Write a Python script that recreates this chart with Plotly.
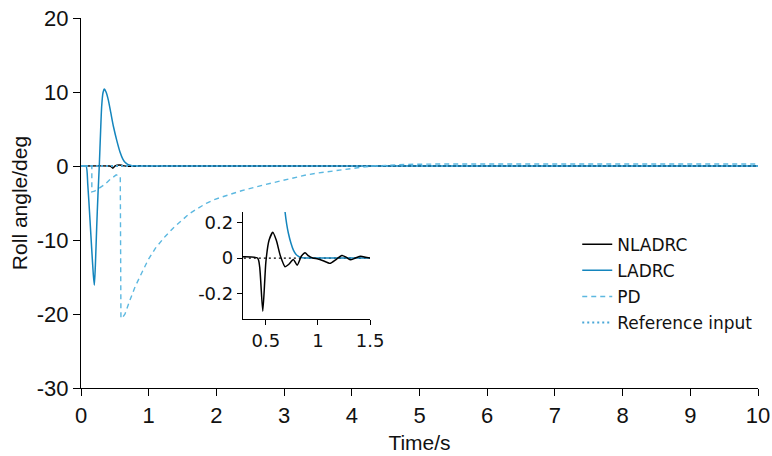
import plotly.graph_objects as go

# ---- data ----
t_end = 10

ladrc_t = [0, 0.074, 0.10, 0.133, 0.16, 0.182, 0.197, 0.212, 0.232, 0.25, 0.27, 0.29, 0.305,
           0.325, 0.345, 0.37, 0.404, 0.44, 0.48, 0.53, 0.576, 0.62, 0.65, 0.684, 0.70,
           0.716, 0.74, 0.764, 0.79, 0.83, 0.9, 10]
ladrc_y = [0, 0, -2.5, -7.3, -11.5, -14.7, -16.1, -13.5, -8.2, -4.0, 0, 4.8, 8.0,
           9.9, 10.4, 10.0, 8.9, 7.2, 5.3, 3.4, 1.9, 0.9, 0.5, 0.26, 0.19,
           0.14, 0.085, 0.045, 0.02, 0.004, 0, 0]

nladrc_t = [0, 0.42, 0.44, 0.47, 0.50, 0.53, 0.566, 0.60, 0.64, 0.684, 0.72, 0.764,
            0.80, 0.84, 0.876, 0.91, 0.95, 1.0, 1.05, 1.116, 1.17, 1.23, 1.27, 1.31,
            1.36, 1.41, 1.46, 1.5, 10]
nladrc_y = [0, 0, -0.05, -0.30, -0.02, 0.10, 0.145, 0.10, 0.01, -0.049, -0.035, -0.008,
            -0.04, 0.01, 0.03, 0.012, 0.0, -0.005, -0.015, -0.03, -0.01, 0.015, 0.005, -0.01,
            0.0, 0.01, 0.004, 0, 0]

pd_t = [0, 0.16, 0.16, 0.2, 0.27, 0.35, 0.42, 0.48, 0.52, 0.58, 0.59, 0.62, 0.65, 0.72,
        0.80, 0.90, 0.99, 1.1, 1.24, 1.36, 1.49, 1.6, 1.73, 1.85, 1.98, 2.1, 2.23, 2.37,
        2.52, 2.68, 2.84, 3.0, 3.17, 3.33, 3.5, 3.67, 3.83, 4.0, 4.16, 4.32, 4.55, 4.8,
        5.3, 6, 8, 10]
pd_y = [0, 0, -3.5, -3.4, -3.0, -2.5, -1.9, -1.4, -1.2, -1.4, -20.6, -20.4, -20.0, -18.2,
        -16.3, -14.4, -12.7, -11.1, -9.55, -8.4, -7.3, -6.45, -5.7, -5.05, -4.5, -4.1, -3.75, -3.35,
        -2.95, -2.6, -2.25, -1.9, -1.5, -1.2, -0.95, -0.72, -0.54, -0.35, -0.15, 0.0, 0.12, 0.22,
        0.27, 0.28, 0.28, 0.28]

ref_t = [0, 10]
ref_y = [0, 0]

x_ticks = list(range(0, 11))
y_ticks = [20, 10, 0, -10, -20, -30]
y_tick_text = ["20", "10", "0", "-10", "-20", "-30"]
inset_x_ticks = [0.5, 1, 1.5]
inset_x_text = ["0.5", "1", "1.5"]
inset_y_ticks = [-0.2, 0, 0.2]
inset_y_text = ["-0.2", "0", "0.2"]

# ---- colours ----
C_NL = "#000000"
C_LA = "#1485bd"
C_PD = "#5cb8e0"
C_REF = "#4aa8d8"

TICK_FONT = dict(family="Liberation Sans, Arial, sans-serif", size=22, color="#111")
TITLE_FONT = dict(family="Liberation Sans, Arial, sans-serif", size=21, color="#111")
TEXT_FONT = dict(family="DejaVu Sans, sans-serif", size=17, color="#111")
INSET_FONT = dict(family="DejaVu Sans, sans-serif", size=18, color="#111")

PD_DASH = "5px,4px"
REF_DOT = "2px,3px"

fig = go.Figure()

# main axes
fig.add_trace(go.Scatter(x=nladrc_t, y=nladrc_y, mode="lines", name="NLADRC",
                         legendgroup="a", line=dict(color=C_NL, width=1.4, shape="spline", smoothing=0.6)))
fig.add_trace(go.Scatter(x=ladrc_t, y=ladrc_y, mode="lines", name="LADRC",
                         legendgroup="b", line=dict(color=C_LA, width=1.5, shape="spline", smoothing=0.6)))
fig.add_trace(go.Scatter(x=pd_t, y=pd_y, mode="lines", name="PD",
                         legendgroup="c", line=dict(color=C_PD, width=1.4, dash=PD_DASH)))
fig.add_trace(go.Scatter(x=ref_t, y=ref_y, mode="lines", name="Reference input",
                         legendgroup="d", line=dict(color=C_REF, width=2, dash=REF_DOT)))

# inset axes (zoom on the first 1.5 s)
fig.add_trace(go.Scatter(x=ref_t, y=ref_y, mode="lines", showlegend=False,
                         xaxis="x2", yaxis="y2", line=dict(color="#000", width=1.2, dash=REF_DOT)))
fig.add_trace(go.Scatter(x=ladrc_t, y=ladrc_y, mode="lines", showlegend=False,
                         xaxis="x2", yaxis="y2", line=dict(color=C_LA, width=1.5, shape="spline", smoothing=0.6)))
fig.add_trace(go.Scatter(x=pd_t, y=pd_y, mode="lines", showlegend=False,
                         xaxis="x2", yaxis="y2", line=dict(color=C_PD, width=1.4, dash=PD_DASH)))
fig.add_trace(go.Scatter(x=nladrc_t, y=nladrc_y, mode="lines", showlegend=False,
                         xaxis="x2", yaxis="y2", line=dict(color=C_NL, width=1.5, shape="spline", smoothing=0.6)))

axis_common = dict(showgrid=False, zeroline=False, showline=True, linecolor="#000",
                   linewidth=1.3, ticks="outside", ticklen=7, tickwidth=1.3,
                   tickcolor="#000", automargin=False)

fig.update_layout(
    width=772, height=456,
    margin=dict(l=81, r=14, t=18, b=68),
    paper_bgcolor="white", plot_bgcolor="white",
    showlegend=True,
    legend=dict(x=0.733, y=0.436, xanchor="left", yanchor="top",
                font=TEXT_FONT, bgcolor="rgba(0,0,0,0)", tracegroupgap=1,
                itemwidth=30),
    xaxis=dict(range=[0, t_end], tickvals=x_ticks, tickfont=TICK_FONT,
               title=dict(text="Time/s", font=TITLE_FONT, standoff=8),
               **axis_common),
    yaxis=dict(range=[-30, 20], tickvals=y_ticks, ticktext=y_tick_text, tickfont=TICK_FONT,
               title=dict(text="Roll angle/deg", font=TITLE_FONT, standoff=3),
               **axis_common),
    xaxis2=dict(domain=[0.2393, 0.4269], anchor="y2", range=[0.28, 1.5],
                tickvals=inset_x_ticks, ticktext=inset_x_text, tickfont=INSET_FONT,
                **{**axis_common, "ticklen": 5}),
    yaxis2=dict(domain=[0.1865, 0.4757], anchor="x2", range=[-0.344, 0.26],
                tickvals=inset_y_ticks, ticktext=inset_y_text, tickfont=INSET_FONT,
                **{**axis_common, "ticklen": 5}),
)

fig.write_html("out.html")
